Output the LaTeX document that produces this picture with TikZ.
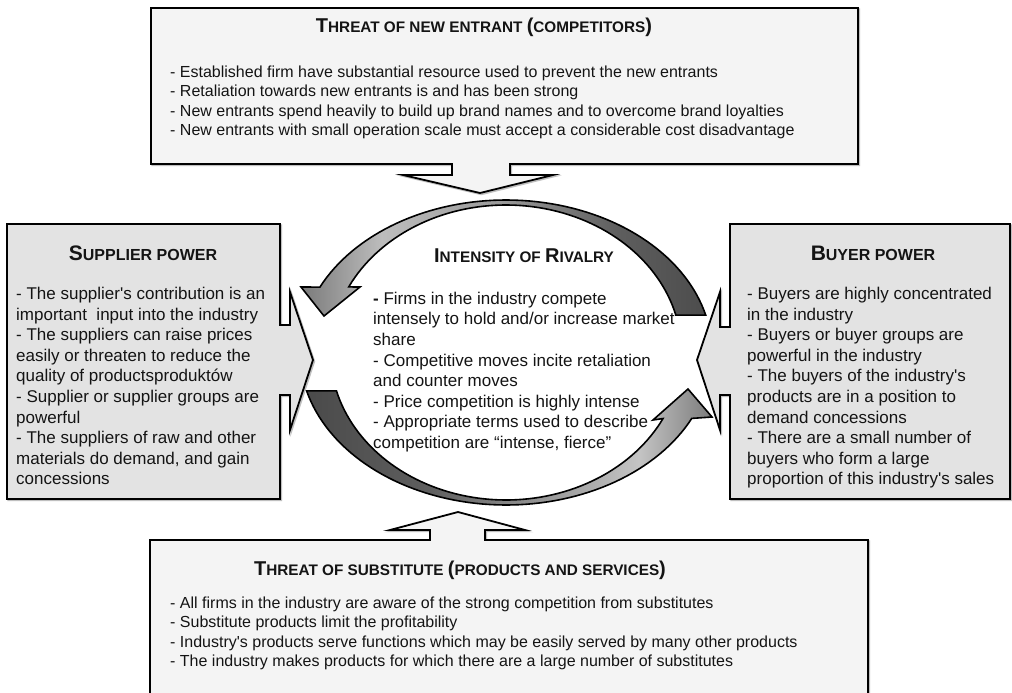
\documentclass[tikz,border=0pt]{standalone}
\usepackage{fontspec}
\setmainfont{Liberation Sans}

% text sizes (1pt = one unit of the picture)
\newcommand\sidefont{\fontsize{17}{20.6}\selectfont}
\newcommand\widefont{\fontsize{16}{19.5}\selectfont}
% small-caps style titles: large initials, smaller capitals
\newcommand\capL[1]{{\fontsize{21}{24}\selectfont #1}}
\newcommand\capS[1]{{\fontsize{16}{24}\selectfont #1}}
\newcommand\capLc[1]{{\fontsize{20}{24}\selectfont #1}}
\newcommand\capSc[1]{{\fontsize{15.3}{24}\selectfont #1}}
\newcommand\apos{\textquotesingle}

\definecolor{boxlight}{HTML}{F4F4F4}
\definecolor{boxgray}{HTML}{E3E3E3}

\pgfdeclarehorizontalshading{rivalTop}{100bp}{%
  color(0bp)=(black!52); color(25bp)=(black!52); color(35bp)=(black!26);
  color(50bp)=(black!40); color(64bp)=(black!63); color(75bp)=(black!70);
  color(100bp)=(black!70)}
\pgfdeclarehorizontalshading{rivalBottom}{100bp}{%
  color(0bp)=(black!71); color(25bp)=(black!71); color(40bp)=(black!63);
  color(55bp)=(black!40); color(66bp)=(black!23); color(75bp)=(black!52);
  color(100bp)=(black!52)}

\tikzset{
  boxline/.style={draw=black, line width=1.8pt, line join=miter},
  boxshadow/.style={draw=black!25, line width=1.8pt, shift={(1.3,1.3)}},
  rivalarrow/.style={draw=black, line width=1.6pt, line join=miter},
  body/.style={inner sep=0pt, align=left, anchor=north west, text=black!92},
  ttl/.style={inner sep=0pt, anchor=base, font=\bfseries, text=black!92},
}

% outlines of the four force boxes, each with its pointer
\def\toppath{(151,8) -- (858,8) -- (858,164) -- (510,164) -- (510,175) -- (553,175) -- (480,193) -- (403,175) -- (452,175) -- (452,164) -- (151,164) -- cycle}
\def\leftpath{(7,224) -- (280,224) -- (280,325) -- (290,325) -- (290,292) -- (313,360) -- (290,430) -- (290,395) -- (280,395) -- (280,499) -- (7,499) -- cycle}
\def\rightpath{(730,224) -- (1010,224) -- (1010,499) -- (730,499) -- (730,395) -- (720,395) -- (720,430) -- (697,360) -- (720,292) -- (720,327) -- (730,327) -- cycle}
\def\botpath{(150,540) -- (430,540) -- (430,530) -- (390,530) -- (458,512) -- (525,530) -- (485,530) -- (485,540) -- (868,540) -- (868,720) -- (150,720) -- cycle}

\begin{document}
\begin{tikzpicture}[x=1pt,y=-1pt]
\clip (0,0) rectangle (1012,693);
\fill[white] (0,0) rectangle (1012,693);

% boxes with their pointers
\draw[boxshadow] \toppath;
\draw[boxshadow] \leftpath;
\draw[boxshadow] \rightpath;
\draw[boxshadow] \botpath;
\draw[boxline, fill=boxlight] \toppath;
\draw[boxline, fill=boxgray] \leftpath;
\draw[boxline, fill=boxgray] \rightpath;
\draw[boxline, fill=boxlight] \botpath;

% two curved arrows circling the rivalry field
\shadedraw[rivalarrow, shading=rivalTop]
  plot[domain=14.2:154.6, samples=70] ({506+206*cos(\x)}, {352.5-152.5*sin(\x)})
  -- (301,287) -- (324,316) -- (360,287)
  -- plot[domain=153.6:14.7, samples=70] ({506+175.6*cos(\x)}, {352.5-147.5*sin(\x)})
  -- cycle;
\shadedraw[rivalarrow, shading=rivalBottom]
  plot[domain=194.6:334.4, samples=70] ({506+206*cos(\x)}, {352.5-152.5*sin(\x)})
  -- (712,417) -- (688,389) -- (653,420)
  -- plot[domain=333.4:195.1, samples=70] ({506+175.6*cos(\x)}, {352.5-147.5*sin(\x)})
  -- cycle;

% titles
\node[ttl] (entrantTitle) at (484,33)
  {\capLc{T}\capSc{HREAT OF NEW ENTRANT }\capLc{(}\capSc{COMPETITORS}\capLc{)}};
\node[ttl] (supplierTitle) at (143,260) {\capL{S}\capS{UPPLIER POWER}};
\node[ttl] (buyerTitle) at (873,260) {\capL{B}\capS{UYER POWER}};
\node[ttl] (rivalryTitle) at (524,262) {\capLc{I}\capSc{NTENSITY OF }\capLc{R}\capSc{IVALRY}};
\node[ttl] (substituteTitle) at (460,575)
  {\capLc{T}\capSc{HREAT OF SUBSTITUTE }\capLc{(}\capSc{PRODUCTS AND SERVICES}\capLc{)}};

% body texts
\node[body, font=\widefont] (entrantText) at (170,63.35)
  {\strut- Established firm have substantial resource used to prevent the new entrants\\
   - Retaliation towards new entrants is and has been strong\\
   - New entrants spend heavily to build up brand names and to overcome brand loyalties\\
   - New entrants with small operation scale must accept a considerable cost disadvantage};
\node[body, font=\sidefont] (supplierText) at (16,284.9)
  {\strut- The supplier\apos s contribution is an\\
   important~ input into the industry\\
   - The suppliers can raise prices\\
   easily or threaten to reduce the\\
   quality of productsproduktów\\
   - Supplier or supplier groups are\\
   powerful\\
   - The suppliers of raw and other\\
   materials do demand, and gain\\
   concessions};
\node[body, font=\sidefont] (buyerText) at (747,284.9)
  {\strut- Buyers are highly concentrated\\
   in the industry\\
   - Buyers or buyer groups are\\
   powerful in the industry\\
   - The buyers of the industry\apos s\\
   products are in a position to\\
   demand concessions\\
   - There are a small number of\\
   buyers who form a large\\
   proportion of this industry\apos s sales};
\node[body, font=\sidefont] (rivalryText) at (373,289.6)
  {\strut\textbf{-} Firms in the industry compete\\
   intensely to hold and/or increase market\\
   share\\
   - Competitive moves incite retaliation\\
   and counter moves\\
   - Price competition is highly intense\\
   - Appropriate terms used to describe\\
   competition are “intense, fierce”};
\node[body, font=\widefont] (substituteText) at (170,594.35)
  {\strut- All firms in the industry are aware of the strong competition from substitutes\\
   - Substitute products limit the profitability\\
   - Industry\apos s products serve functions which may be easily served by many other products\\
   - The industry makes products for which there are a large number of substitutes};
\end{tikzpicture}
\end{document}
